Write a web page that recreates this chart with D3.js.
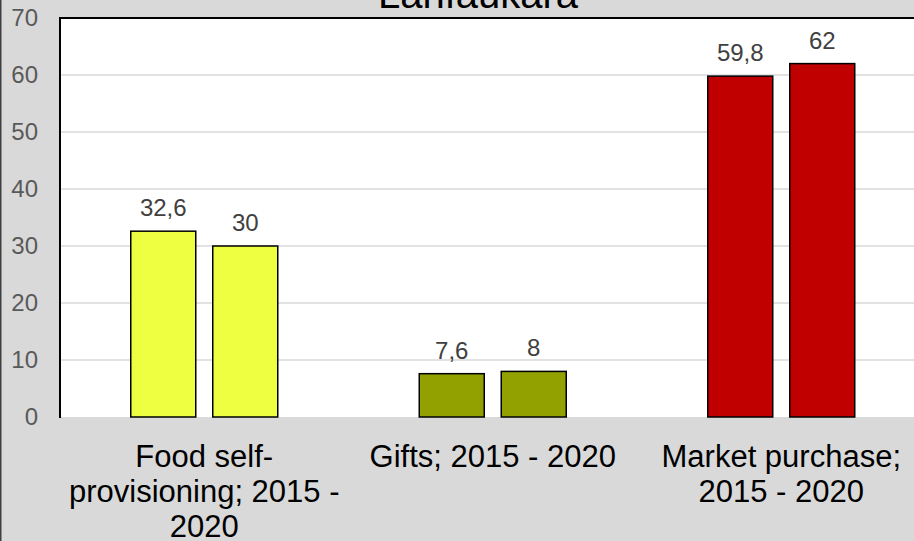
<!DOCTYPE html>
<html><head><meta charset="utf-8">
<script src="https://cdn.jsdelivr.net/npm/d3@7"></script>
<style>html,body{margin:0;padding:0;background:#d9d9d9;overflow:hidden}svg{display:block;font-family:"Liberation Sans",Arial,sans-serif}</style>
</head><body>
<script>
const title = "Lanfaukara";
const categories = [["Food self-","provisioning; 2015 -","2020"],["Gifts; 2015 - 2020"],["Market purchase;","2015 - 2020"]];
const series2015 = [32.6, 7.6, 59.8];
const series2020 = [30, 8, 62];
const labels2015 = ["32,6","7,6","59,8"];
const labels2020 = ["30","8","62"];
const colors = ["#eeff41","#92a000","#c00000"];
const yTicks = [0,10,20,30,40,50,60,70];

const W=914,H=541;
const svg=d3.select("body").append("svg").attr("width",W).attr("height",H);
svg.append("rect").attr("width",W).attr("height",H).attr("fill","#d9d9d9");
svg.append("line").attr("x1",0.75).attr("x2",0.75).attr("y1",0).attr("y2",H).attr("stroke","#404040").attr("stroke-width",1.5);

const m={l:60,t:18,r:925.5,b:417};
const x=d3.scaleBand().domain(d3.range(categories.length)).range([m.l,m.r]);
const y=d3.scaleLinear().domain([0,70]).range([m.b,m.t]);

svg.append("rect").attr("x",m.l).attr("y",m.t).attr("width",m.r-m.l).attr("height",m.b-m.t).attr("fill","#fff");
svg.append("g").selectAll("line").data(yTicks.filter(d=>d>0&&d<70)).join("line")
  .attr("x1",m.l).attr("x2",m.r).attr("y1",d=>y(d)).attr("y2",d=>y(d)).attr("stroke","#d9d9d9").attr("stroke-width",1.5);
svg.append("line").attr("x1",m.l).attr("x2",m.r).attr("y1",m.t).attr("y2",m.t).attr("stroke","#000").attr("stroke-width",2);
svg.append("line").attr("x1",m.l).attr("x2",m.l).attr("y1",m.t-1).attr("y2",m.b+1).attr("stroke","#000").attr("stroke-width",2);

const yAxis=d3.axisLeft(y).tickValues(yTicks).tickSize(0).tickPadding(0);
const ga=svg.append("g").attr("transform",`translate(38,0)`).call(yAxis);
ga.select(".domain").remove();
ga.selectAll("text").attr("fill","#595959").attr("font-size",24).attr("font-family","Liberation Sans, Arial, sans-serif");

const bw=65, gap=17;
const offs=[-(gap/2+bw), gap/2];
const data=[];
categories.forEach((c,i)=>{
  data.push({i,k:0,v:series2015[i],lab:labels2015[i]});
  data.push({i,k:1,v:series2020[i],lab:labels2020[i]});
});
const cx=i=>x(i)+x.bandwidth()/2;
svg.append("g").selectAll("rect").data(data).join("rect")
  .attr("x",d=>cx(d.i)+offs[d.k]).attr("width",bw)
  .attr("y",d=>y(d.v)).attr("height",d=>y(0)-y(d.v))
  .attr("fill",d=>colors[d.i]).attr("stroke","#000").attr("stroke-width",1.5);
svg.append("g").selectAll("text").data(data).join("text")
  .attr("x",d=>cx(d.i)+offs[d.k]+bw/2).attr("y",d=>y(d.v)-15)
  .attr("text-anchor","middle").attr("font-size",24).attr("fill","#404040").text(d=>d.lab);

const gc=svg.append("g");
categories.forEach((lines,i)=>{
  lines.forEach((t,j)=>{
    gc.append("text").attr("x",cx(i)).attr("y",467+j*35).attr("text-anchor","middle")
      .attr("font-size",31).attr("fill","#000").text(t);
  });
});
svg.append("text").attr("x",478).attr("y",8).attr("text-anchor","middle").attr("font-size",40).attr("fill","#000").text(title);
</script>
</body></html>
